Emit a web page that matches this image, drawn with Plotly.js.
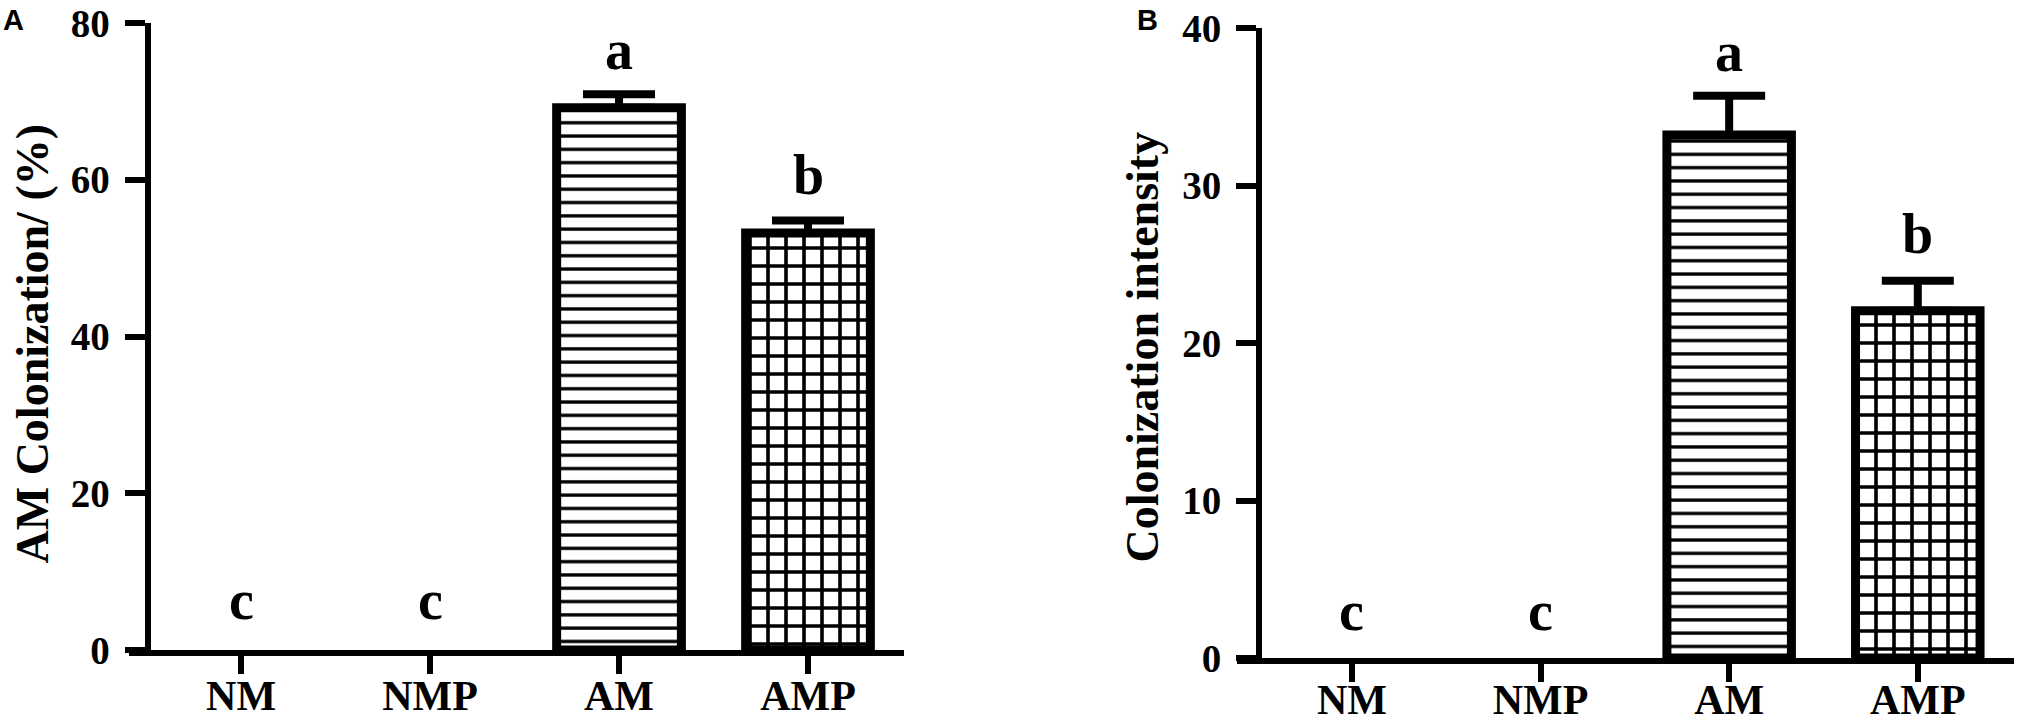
<!DOCTYPE html>
<html>
<head>
<meta charset="utf-8">
<script src="https://cdn.plot.ly/plotly-3.0.1.min.js"></script>
<style>html,body{margin:0;padding:0;background:#fff;}#chart{width:2029px;height:725px;}</style>
</head>
<body>
<div id="chart"></div>
<script>
// ---- data ----
const categories = ["NM", "NMP", "AM", "AMP"];
const colonizationA = [0, 0, 69.2, 53.2];
const colonizationErrA = [0, 0, 1.7, 1.6];
const intensityB = [0, 0, 33.2, 22.05];
const intensityErrB = [0, 0, 2.5, 1.9];
const lettersA = ["c", "c", "a", "b"];
const lettersB = ["c", "c", "a", "b"];
const yTicksA = [0, 20, 40, 60, 80];
const yTicksB = [0, 10, 20, 30, 40];
const titleA = "AM Colonization/ (%)";
const titleB = "Colonization intensity";

// ---- styles ----
const W = 2029, H = 725;
const serif = "Liberation Serif, Times New Roman, serif";
const patternShapes = ["", "", "-", "+"];
const patternSizes = [10, 10, 13.3, 18];
const patternSolid = [0.25, 0.25, 0.25, 0.36];
const outlineWidths = [0, 0, 9, 9];
const letterShiftA = [17, 17, 11, 12];
const letterShiftB = [14, 14, 11, 14];

function barTrace(vals, xa, ya) {
  return {
    type: "bar", x: categories, y: vals, xaxis: xa, yaxis: ya,
    width: 0.66,
    marker: {
      color: "white",
      line: {color: "black", width: outlineWidths},
      pattern: {shape: patternShapes, size: patternSizes, solidity: patternSolid,
                fgcolor: "black", bgcolor: "white", fillmode: "replace"}
    },
    hoverinfo: "none", showlegend: false
  };
}

// error bars only where an error exists (upper half only, as in the figure)
function errTrace(vals, errs, xa, ya) {
  const idx = errs.map((e, i) => i).filter(i => errs[i] > 0);
  return {
    type: "scatter", mode: "none", xaxis: xa, yaxis: ya,
    x: idx.map(i => categories[i]), y: idx.map(i => vals[i]),
    error_y: {type: "data", symmetric: false, array: idx.map(i => errs[i]),
              arrayminus: idx.map(() => 0), color: "black", thickness: 8, width: 36},
    hoverinfo: "none", showlegend: false
  };
}

function letterAnns(vals, errs, letters, shifts, xref, yref) {
  return letters.map((t, i) => ({
    x: categories[i], y: vals[i] + errs[i], xref: xref, yref: yref,
    text: t, showarrow: false, yanchor: "bottom", yshift: shifts[i],
    font: {family: serif, size: 56, weight: "bold", color: "black"}
  }));
}

const px = v => v / W, py = v => 1 - v / H;

const axisCommon = {
  showline: true, linewidth: 6, linecolor: "black", ticks: "outside",
  tickwidth: 6, tickcolor: "black", showgrid: false, zeroline: false,
  fixedrange: true,
  tickfont: {family: serif, size: 39, weight: "bold", color: "black"}
};
const xTickFont = {family: serif, size: 42, weight: "bold", color: "black"};
const yTitleFont = {family: serif, size: 46, weight: "bold", color: "black"};
const panelFont = {family: "Liberation Sans, Arial, sans-serif", size: 29, weight: "bold", color: "black"};

const layout = {
  width: W, height: H,
  margin: {l: 0, r: 0, t: 0, b: 0, pad: 0},
  paper_bgcolor: "white", plot_bgcolor: "rgba(0,0,0,0)",
  xaxis: Object.assign({}, axisCommon, {
    domain: [px(129), px(904)], anchor: "y", range: [-0.593, 3.508],
    ticklen: 18, type: "category", tickfont: xTickFont, ticklabelstandoff: -14
  }),
  yaxis: Object.assign({}, axisCommon, {
    domain: [py(650), py(23)], anchor: "free", position: px(147.5), range: [0, 80],
    tickvals: yTicksA, ticklen: 20, ticklabelstandoff: 7
  }),
  xaxis2: Object.assign({}, axisCommon, {
    domain: [px(1237), px(2014)], anchor: "y2", range: [-0.609, 3.51],
    ticklen: 18, type: "category", tickfont: xTickFont, ticklabelstandoff: -18
  }),
  yaxis2: Object.assign({}, axisCommon, {
    domain: [py(658), py(28)], anchor: "free", position: px(1259), range: [0, 40],
    tickvals: yTicksB, ticklen: 20, ticklabelstandoff: 7
  }),
  annotations: [
    ...letterAnns(colonizationA, colonizationErrA, lettersA, letterShiftA, "x", "y"),
    ...letterAnns(intensityB, intensityErrB, lettersB, letterShiftB, "x2", "y2"),
    {text: titleA, xref: "paper", yref: "paper", x: px(31.5), y: py(344), textangle: -90,
     showarrow: false, xanchor: "center", yanchor: "middle", font: yTitleFont},
    {text: titleB, xref: "paper", yref: "paper", x: px(1142.5), y: py(347), textangle: -90,
     showarrow: false, xanchor: "center", yanchor: "middle", font: yTitleFont},
    {text: "A", xref: "paper", yref: "paper", x: px(13), y: py(20), showarrow: false,
     xanchor: "center", yanchor: "middle", font: panelFont},
    {text: "B", xref: "paper", yref: "paper", x: px(1147), y: py(20), showarrow: false,
     xanchor: "center", yanchor: "middle", font: panelFont}
  ]
};

Plotly.newPlot("chart", [
  barTrace(colonizationA, "x", "y"),
  errTrace(colonizationA, colonizationErrA, "x", "y"),
  barTrace(intensityB, "x2", "y2"),
  errTrace(intensityB, intensityErrB, "x2", "y2")
], layout, {staticPlot: true, displayModeBar: false});
</script>
</body>
</html>
